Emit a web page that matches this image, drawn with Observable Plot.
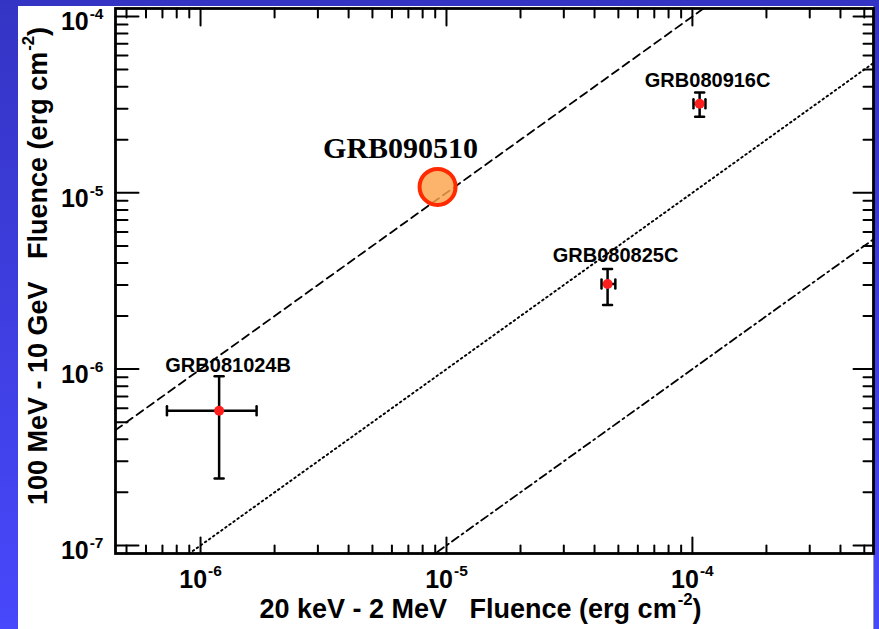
<!DOCTYPE html>
<html><head><meta charset="utf-8">
<script src="https://cdn.jsdelivr.net/npm/d3@7"></script>
<script src="https://cdn.jsdelivr.net/npm/@observablehq/plot@0.6"></script>
<style>
html,body{margin:0;padding:0;width:879px;height:629px;overflow:hidden;}
body{background:linear-gradient(to bottom,#3434c4,#4848fc);position:relative;}
#panel{position:absolute;left:18px;top:6px;width:856px;height:623px;background:#fff;border-right:1px solid #9a9aa8;box-sizing:border-box;}
#chart{position:absolute;left:0;top:0;}
#chart svg text{white-space:pre;}
</style></head><body><div id="panel"></div><div id="chart"></div>
<script>
// ---- data ----
const grbNames   = ["GRB081024B", "GRB080825C", "GRB080916C"];
const gbmFluence = [1.19e-6, 4.52e-5, 1.07e-4];
const gbmLow     = [7.3e-7, 4.27e-5, 1.01e-4];
const gbmHigh    = [1.69e-6, 4.86e-5, 1.13e-4];
const latFluence = [5.8e-7, 3.04e-6, 3.2e-5];
const latLow     = [2.4e-7, 2.31e-6, 2.7e-5];
const latHigh    = [9.1e-7, 3.7e-6, 3.7e-5];

const highlightName = ["GRB090510"];
const highlightGbm  = [9.2e-6];
const highlightLat  = [1.08e-5];

const ratios = [1, 0.1, 0.01];

const xMajor = [1e-6, 1e-5, 1e-4];
const xTickLabels = ["10^{-6}", "10^{-5}", "10^{-4}"];
const xMinor = [5e-7, 6e-7, 7e-7, 8e-7, 9e-7,
  2e-6, 3e-6, 4e-6, 5e-6, 6e-6, 7e-6, 8e-6, 9e-6,
  2e-5, 3e-5, 4e-5, 5e-5, 6e-5, 7e-5, 8e-5, 9e-5,
  2e-4, 3e-4, 4e-4, 5e-4];
const yMajor = [1e-7, 1e-6, 1e-5, 1e-4];
const yTickLabels = ["10^{-7}", "10^{-6}", "10^{-5}", "10^{-4}"];
const yMinor = [2e-7, 3e-7, 4e-7, 5e-7, 6e-7, 7e-7, 8e-7, 9e-7,
  2e-6, 3e-6, 4e-6, 5e-6, 6e-6, 7e-6, 8e-6, 9e-6,
  2e-5, 3e-5, 4e-5, 5e-5, 6e-5, 7e-5, 8e-5, 9e-5];

const xTitle = "20 keV - 2 MeV   Fluence (erg cm^{-2})";
const yTitle = "100 MeV - 10 GeV   Fluence (erg cm^{-2})";

const xDomain = [4.51e-7, 5.45e-4];
const yDomain = [9.0e-8, 1.11e-4];

// ---- build ----
const grbs = grbNames.map((name, i) => ({
  name, x: gbmFluence[i], xlo: gbmLow[i], xhi: gbmHigh[i],
  y: latFluence[i], ylo: latLow[i], yhi: latHigh[i]
}));
const hl = highlightName.map((name, i) => ({name, x: highlightGbm[i], y: highlightLat[i]}));
const ratioLine = r => xDomain.map(x => ({x, y: r * x}));

const tickShape = {draw(ctx, l) { ctx.moveTo(0, 0); ctx.lineTo(0, -l); }};
const capShape = {draw(ctx, l) { ctx.moveTo(0, l / 2); ctx.lineTo(0, -l / 2); }};
const tk = {stroke: "black", strokeWidth: 2, anchor: "start", shape: tickShape};
const cap = {length: 9, anchor: "start", shape: capShape, stroke: "black", strokeWidth: 2.5};

const labelOffsets = {GRB081024B: [9, -39], GRB080825C: [8, -22], GRB080916C: [8, -17]};
const lineStyles = ["8,5", "1.6,3.4", "8,4,2,4"];
const lineWidths = [1.8, 1.9, 1.8];

const bold = {fontWeight: "bold", fill: "black"};

const plot = Plot.plot({
  width: 879, height: 629,
  marginLeft: 115, marginRight: 6, marginTop: 8, marginBottom: 76,
  style: {background: "transparent", fontFamily: "'Liberation Sans', Arial, sans-serif", overflow: "visible"},
  x: {type: "log", domain: xDomain, axis: null},
  y: {type: "log", domain: yDomain, axis: null},
  marks: [
    ...ratios.map((r, i) => Plot.line(ratioLine(r), {x: "x", y: "y", stroke: "black", strokeWidth: lineWidths[i], strokeDasharray: lineStyles[i], clip: true})),
    // ticks
    Plot.vector(xMinor, {x: d => d, frameAnchor: "bottom", length: 8, rotate: 0, ...tk}),
    Plot.vector(xMajor, {x: d => d, frameAnchor: "bottom", length: 16, rotate: 0, ...tk}),
    Plot.vector(xMinor, {x: d => d, frameAnchor: "top", length: 9, rotate: 180, ...tk}),
    Plot.vector(xMajor, {x: d => d, frameAnchor: "top", length: 17, rotate: 180, ...tk}),
    Plot.vector(yMinor, {y: d => d, frameAnchor: "left", length: 12, rotate: 90, ...tk}),
    Plot.vector(yMajor, {y: d => d, frameAnchor: "left", length: 23, rotate: 90, ...tk}),
    Plot.vector(yMinor, {y: d => d, frameAnchor: "right", length: 10, rotate: -90, ...tk}),
    Plot.vector(yMajor, {y: d => d, frameAnchor: "right", length: 20, rotate: -90, ...tk}),
    Plot.frame({stroke: "black", strokeWidth: 2.8}),
    // tick labels
    Plot.text(xMajor, {x: d => d, frameAnchor: "bottom", text: (d, i) => xTickLabels[i], dy: 34, lineAnchor: "bottom", textAnchor: "middle", fontSize: 25, ...bold}),
    Plot.text(yMajor, {y: d => d, frameAnchor: "left", text: (d, i) => yTickLabels[i], dx: -12, dy: 14, lineAnchor: "bottom", textAnchor: "end", fontSize: 25, ...bold}),
    // titles
    Plot.text([xTitle], {frameAnchor: "bottom", text: d => d, dy: 64, dx: -14, lineAnchor: "bottom", textAnchor: "middle", fontSize: 27, ...bold}),
    Plot.text([yTitle], {frameAnchor: "left", text: d => d, rotate: -90, dx: -69, dy: -15, lineAnchor: "bottom", textAnchor: "middle", fontSize: 27, ...bold}),
    // error bars
    Plot.ruleY(grbs, {y: "y", x1: "xlo", x2: "xhi", stroke: "black", strokeWidth: 2.5}),
    Plot.ruleX(grbs, {x: "x", y1: "ylo", y2: "yhi", stroke: "black", strokeWidth: 2.5}),
    Plot.vector(grbs, {x: "xlo", y: "y", rotate: 0, ...cap}),
    Plot.vector(grbs, {x: "xhi", y: "y", rotate: 0, ...cap}),
    Plot.vector(grbs, {x: "x", y: "ylo", rotate: 90, ...cap}),
    Plot.vector(grbs, {x: "x", y: "yhi", rotate: 90, ...cap}),
    Plot.dot(grbs, {x: "x", y: "y", r: 5, fill: "#ff1f1f", stroke: "none"}),
    ...grbNames.map(n => Plot.text(grbs.filter(d => d.name === n), {x: "x", y: "y", text: "name", dx: labelOffsets[n][0], dy: labelOffsets[n][1], lineAnchor: "bottom", textAnchor: "middle", fontSize: 20, ...bold})),
    // highlight
    Plot.dot(hl, {x: "x", y: "y", r: 18, fill: "#fba34c", fillOpacity: 0.82, stroke: "#ff2a00", strokeWidth: 4}),
    Plot.text(hl, {x: "x", y: "y", text: "name", dx: -37, dy: -29, lineAnchor: "bottom", textAnchor: "middle", fontSize: 30, fontFamily: "'Liberation Serif', 'Times New Roman', serif", ...bold})
  ]
});

document.getElementById("chart").appendChild(plot);

// superscripts: turn "a^{b}c" into tspans (after attaching, so computed font sizes are known)
d3.select(plot).selectAll("text").each(function () {
  const s = this.textContent;
  const m = s.match(/^(.*)\^\{(.*?)\}(.*)$/);
  if (!m) return;
  const fs = parseFloat(getComputedStyle(this).fontSize) || 25;
  const supSize = fs * 0.62, raise = fs * 0.45;
  const t = d3.select(this);
  t.text(null);
  t.append("tspan").text(m[1]);
  t.append("tspan").attr("font-size", supSize).attr("dy", -raise).attr("dx", 1).text(m[2]);
  if (m[3]) t.append("tspan").attr("dy", raise).text(m[3]);
});
</script>
</body></html>
